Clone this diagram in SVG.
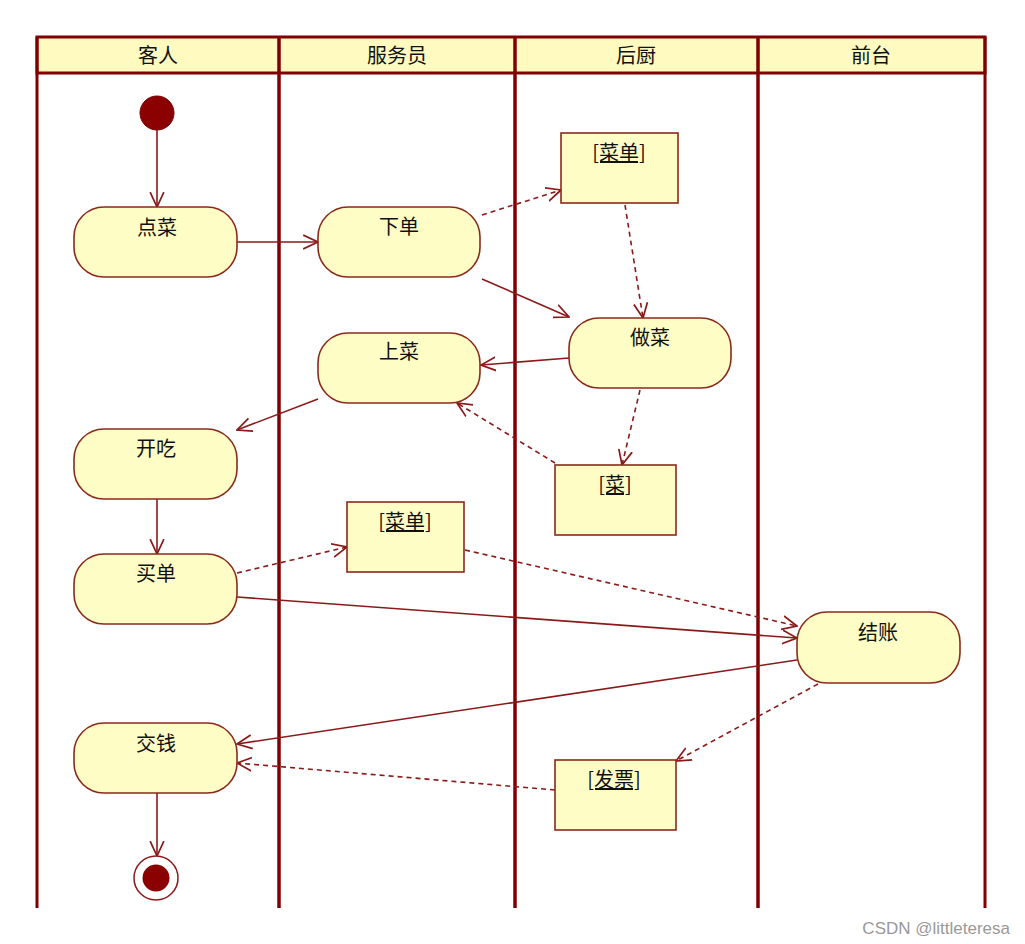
<svg xmlns="http://www.w3.org/2000/svg" width="1025" height="944" viewBox="0 0 1025 944">
<style>
.lane{stroke:#800000;stroke-width:3.5;fill:none}
.hdr{fill:#FFFAC0;stroke:#800000;stroke-width:3}
.act{fill:#FFFDC6;stroke:#8A2A1A;stroke-width:1.6}
.obj{fill:#FFFDC6;stroke:#8A2A1A;stroke-width:1.6}
.t{font-family:"Noto Sans CJK SC","Liberation Sans",sans-serif;font-size:20px;fill:#111;text-anchor:middle}
.u{text-decoration:underline}
.c{stroke:#8A1A1A;stroke-width:1.6;fill:none;marker-end:url(#arr)}
.d{stroke-dasharray:5,4}
</style>
<defs>
<marker id="arr" markerUnits="userSpaceOnUse" markerWidth="16" markerHeight="16" viewBox="0 0 14 12" refX="13" refY="6" orient="auto">
<path d="M0,0 L13,6 L0,12" fill="none" stroke="#8A1A1A" stroke-width="1.5"/>
</marker>
</defs>
<rect width="1025" height="944" fill="#fff"/>
<g id="swimlanes">
<rect class="hdr" x="37" y="37" width="948" height="36"/>
<line class="lane" x1="37" y1="37" x2="37" y2="908" style="stroke-width:3"/>
<line class="lane" x1="279" y1="37" x2="279" y2="908"/>
<line class="lane" x1="515" y1="37" x2="515" y2="908"/>
<line class="lane" x1="758" y1="37" x2="758" y2="908"/>
<line class="lane" x1="985" y1="37" x2="985" y2="908" style="stroke-width:3"/>
<text class="t" x="158" y="63">客人</text>
<text class="t" x="397" y="63">服务员</text>
<text class="t" x="636" y="63">后厨</text>
<text class="t" x="871" y="63">前台</text>
</g>
<g id="connectors">
<line class="c" x1="157" y1="130" x2="157" y2="207"/>
<line class="c" x1="237" y1="242" x2="318" y2="242"/>
<line class="c d" x1="482" y1="215" x2="561" y2="190"/>
<line class="c d" x1="625" y1="205" x2="643" y2="318"/>
<line class="c" x1="482" y1="279" x2="569" y2="317"/>
<line class="c" x1="569" y1="358" x2="481" y2="365"/>
<line class="c d" x1="640" y1="390" x2="622" y2="465"/>
<line class="c d" x1="555" y1="463" x2="457" y2="403"/>
<line class="c" x1="318" y1="399" x2="237" y2="430"/>
<line class="c" x1="157" y1="499" x2="157" y2="554"/>
<line class="c d" x1="237" y1="573" x2="347" y2="547"/>
<line class="c d" x1="465" y1="550" x2="797" y2="626"/>
<line class="c" x1="237" y1="597" x2="797" y2="638"/>
<line class="c" x1="797" y1="660" x2="237" y2="744"/>
<line class="c d" x1="818" y1="684" x2="676" y2="761"/>
<line class="c d" x1="555" y1="790" x2="237" y2="763"/>
<line class="c" x1="157" y1="793" x2="157" y2="856"/>
</g>
<g id="start"><circle cx="157" cy="113" r="17" fill="#8B0000" stroke="#7A0000" stroke-width="1"/></g>
<g id="n-diancai"><rect class="act" x="74" y="207" width="163" height="70" rx="30" ry="30"/><text class="t" x="157" y="235">点菜</text></g>
<g id="n-xiadan"><rect class="act" x="318" y="207" width="162" height="70" rx="30" ry="30"/><text class="t" x="399" y="234">下单</text></g>
<g id="n-shangcai"><rect class="act" x="318" y="333" width="162" height="70" rx="30" ry="30"/><text class="t" x="399" y="359">上菜</text></g>
<g id="n-zuocai"><rect class="act" x="569" y="318" width="162" height="70" rx="30" ry="30"/><text class="t" x="650" y="345">做菜</text></g>
<g id="n-kaichi"><rect class="act" x="74" y="429" width="163" height="70" rx="30" ry="30"/><text class="t" x="156" y="456">开吃</text></g>
<g id="n-maidan"><rect class="act" x="74" y="554" width="163" height="70" rx="30" ry="30"/><text class="t" x="156" y="581">买单</text></g>
<g id="n-jiaoqian"><rect class="act" x="74" y="723" width="163" height="70" rx="30" ry="30"/><text class="t" x="156" y="751">交钱</text></g>
<g id="n-jiezhang"><rect class="act" x="797" y="612" width="163" height="71" rx="30" ry="30"/><text class="t" x="878" y="640">结账</text></g>
<g id="o-caidan1"><rect class="obj" x="561" y="133" width="117" height="70"/><text class="t u" x="619" y="160">[菜单]</text></g>
<g id="o-cai"><rect class="obj" x="555" y="465" width="121" height="70"/><text class="t u" x="615" y="492">[菜]</text></g>
<g id="o-caidan2"><rect class="obj" x="347" y="502" width="117" height="70"/><text class="t u" x="405" y="529">[菜单]</text></g>
<g id="o-fapiao"><rect class="obj" x="555" y="760" width="121" height="70"/><text class="t u" x="614" y="787">[发票]</text></g>
<g id="end"><circle cx="156" cy="878" r="22" fill="#fff" stroke="#8A1A1A" stroke-width="1.5"/><circle cx="156" cy="878" r="13.5" fill="#8B0000"/></g>
<text x="1010" y="934" font-family="Liberation Sans, sans-serif" font-size="17" fill="#999" text-anchor="end">CSDN @littleteresa</text>
</svg>
